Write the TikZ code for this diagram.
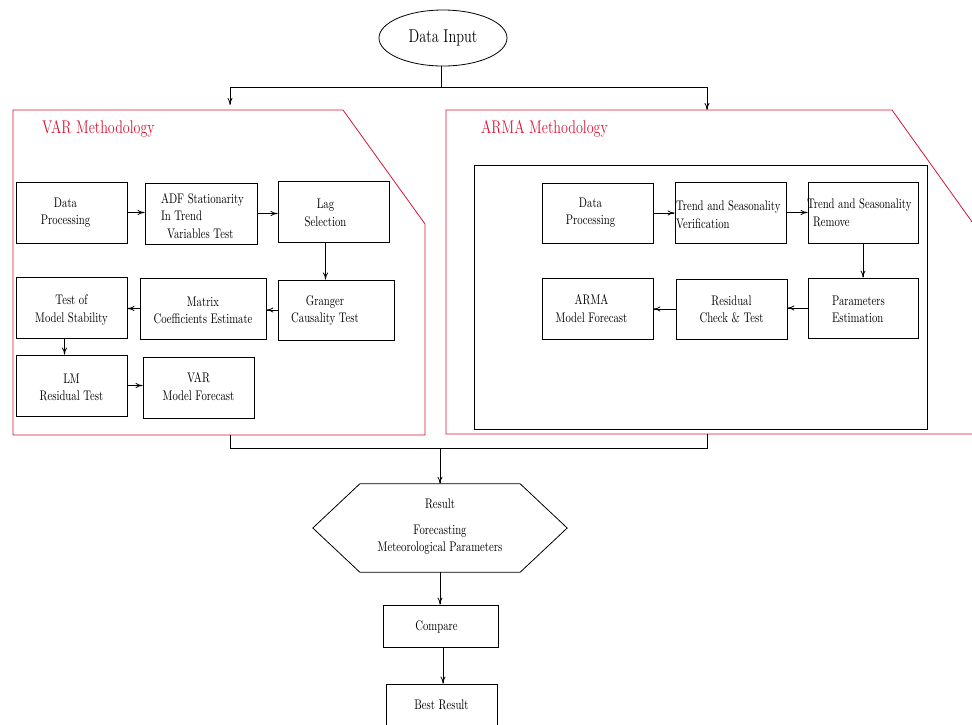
\documentclass[tikz,border=0pt]{standalone}
\usepackage{graphicx}
\usetikzlibrary{shapes.geometric,arrows.meta}
\definecolor{mred}{RGB}{214,20,52}
\newcommand\vs[1]{\scalebox{1}[1.3]{#1}}
\newcommand\bt[2][1pt]{\raisebox{-#1}[\height][\depth]{\vs{\begin{tabular}{@{}c@{}}#2\end{tabular}}}}
\newcommand\btl[2][1pt]{\raisebox{-#1}[\height][\depth]{\vs{\begin{tabular}{@{}l@{}}#2\end{tabular}}}}
\newcommand\shx[2]{\makebox[0pt]{\hspace*{#1}\hspace*{#1}\makebox[0pt]{#2}}}
\newcommand\lft[3]{\makebox[#1][l]{\hspace*{#2}#3}}
\tikzset{
  ln/.style={line width=0.8pt},
  arr/.style={ln, -{To[length=7pt,width=5pt]}},
  box/.style={draw, ln, inner sep=0pt, font=\fontsize{10.7}{13.4}\selectfont},
  sz/.style 2 args={minimum width=#1pt, minimum height=#2pt},
  redline/.style={draw=mred, line width=0.8pt},
  ttl/.style={text=mred, inner sep=0pt, font=\fontsize{14.1}{16}\selectfont},
}
\begin{document}
\begin{tikzpicture}[x=1pt,y=-1pt]
\useasboundingbox (0,0) rectangle (972,724);
\clip (0,0) rectangle (972,724);

% Data input and split
\node[draw, ln, ellipse, inner sep=0pt, minimum width=128pt, minimum height=56pt,
      font=\fontsize{14.3}{16}\selectfont] (DI) at (443,38) {\vs{Data Input}};
\coordinate (split) at (441,87);
\coordinate (varin) at (230,105);
\coordinate (armain) at (707,110);
\draw[ln] (split |- DI.south) -- (split);
\draw[arr] (split) -| (varin);
\draw[arr] (split) -| (armain);

% VAR frame
\draw[redline] (13,110) -- (343,110) -- (425,224) -- (425,435) -- (13,435) -- cycle;
\node[ttl] (vart) at (98.5,129) {\vs{VAR Methodology}};

% ARMA frame
\draw[redline] (446,110) -- (892,110) -- (975,226) -- (975,434) -- (446,434) -- cycle;
\node[ttl] (armat) at (544.5,129) {\vs{ARMA Methodology}};
\draw[ln] (474,165) rectangle (927,429);

% VAR boxes
\node[box, sz={111}{61}] (vdp) at (71.5,212.5) {\shx{-6pt}{\bt[0pt]{Data\\Processing}}};
\node[box, sz={112}{61}] (vadf) at (201,213.5) {\lft{112pt}{16pt}{\btl[4pt]{ADF Stationarity\\In Trend\\\hspace*{6pt}Variables Test}}};
\node[box, sz={111}{61}] (vlag) at (333.5,211.5) {\shx{-8pt}{\bt[2.5pt]{Lag\\Selection}}};
\node[box, sz={116}{60}] (vgr) at (336,310) {\shx{-11pt}{\bt[0.5pt]{Granger\\Causality Test}}};
\node[box, sz={126}{61}] (vmat) at (203,308.5) {\bt[3pt]{Matrix\\Coefficients Estimate}};
\node[box, sz={111}{61}] (vtest) at (71.5,307.5) {\bt[2.5pt]{Test of\\Model Stability}};
\node[box, sz={111}{61}] (vlm) at (71.5,385.5) {\bt[3pt]{LM\\Residual Test}};
\node[box, sz={111}{61}] (vfc) at (198.5,387.5) {\bt[0.5pt]{VAR\\Model Forecast}};

\draw[arr] (vdp.east) -- (vdp.east -| vadf.west);
\draw[arr] (vadf.east) -- (vadf.east -| vlag.west);
\draw[arr] ([xshift=-8pt]vlag.south) -- ([xshift=-8pt]vlag.south |- vgr.north);
\draw[arr] (vgr.west) -- (vgr.west -| vmat.east);
\draw[arr] (vmat.west) -- (vmat.west -| vtest.east);
\draw[arr] ([xshift=-7pt]vtest.south) -- ([xshift=-7pt]vtest.south |- vlm.north);
\draw[arr] (vlm.east) -- (vlm.east -| vfc.west);

% ARMA boxes
\node[box, sz={111}{60}] (adp) at (597.5,213) {\shx{-7pt}{\bt[-0.5pt]{Data\\Processing}}};
\node[box, sz={111}{61}] (atsv) at (730.5,212.5) {\lft{111pt}{1pt}{\btl[3.5pt]{Trend and Seasonality\\Verification}}};
\node[box, sz={110}{61}] (atsr) at (863,212.5) {\lft{110pt}{-1pt}{\btl[1.5pt]{Trend and Seasonality\\\hspace*{6pt}Remove}}};
\node[box, sz={110}{60}] (apar) at (863,308) {\lft{110pt}{24pt}{\btl[2.5pt]{Parameters\\Estimation}}};
\node[box, sz={111}{60}] (ares) at (731.5,309) {\bt[1.5pt]{Residual\\Check \& Test}};
\node[box, sz={111}{61}] (afc) at (597.5,308.5) {\shx{-6pt}{\bt[1.5pt]{ARMA\\Model Forecast}}};

\draw[arr] (adp.east) -- (adp.east -| atsv.west);
\draw[arr] (atsv.east) -- (atsv.east -| atsr.west);
\draw[arr] (atsr.south) -- (atsr.south |- apar.north);
\draw[arr] (apar.west) -- (apar.west -| ares.east);
\draw[arr] (ares.west) -- (ares.west -| afc.east);

% merge
\coordinate (varbot) at (230,435);
\coordinate (armabot) at (707,434);
\coordinate (merge) at (440,448);
\draw[ln] (varbot) |- (merge) -| (armabot);

% result hexagon
\node[inner sep=0pt, minimum width=254pt, minimum height=88pt,
      font=\fontsize{10.7}{13.2}\selectfont] (res) at (440,528)
      {\bt[-1.5pt]{Result\\[6.5pt]Forecasting\\Meteorological Parameters}};
\draw[ln] (res.west) -- ([xshift=47pt]res.north west) -- ([xshift=-47pt]res.north east)
  -- (res.east) -- ([xshift=-47pt]res.south east) -- ([xshift=47pt]res.south west) -- cycle;
\draw[arr] (merge) -- (res.north);

\node[box, sz={115}{42}] (cmp) at (440.5,626) {\shx{-4pt}{\bt{Compare}}};
\node[box, sz={111}{42}] (best) at (441.5,705) {\bt{Best Result}};
\draw[arr] (res.south) -- (res.south |- cmp.north);
\draw[arr] ([xshift=2.5pt]cmp.south) -- ([xshift=2.5pt]cmp.south |- best.north);
\end{tikzpicture}
\end{document}
